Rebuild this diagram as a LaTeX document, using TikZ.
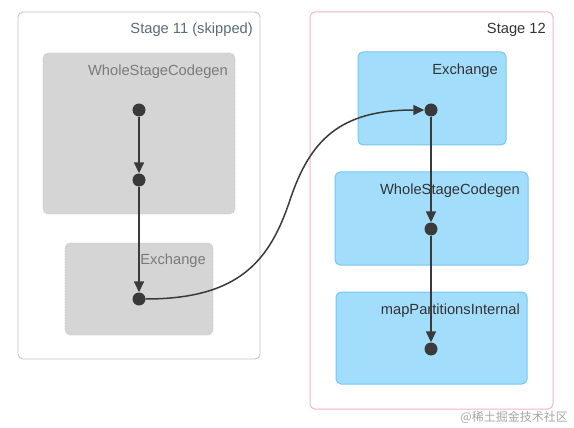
\documentclass[tikz,border=0pt]{standalone}
\usepackage{fontspec}
\setmainfont{Liberation Sans}
\newfontfamily\cjk{Noto Sans CJK SC}
\usetikzlibrary{arrows.meta}
\definecolor{grayfill}{HTML}{D5D5D5}
\definecolor{grayedge}{HTML}{C4C4C4}
\definecolor{stageedge}{HTML}{C2C2C2}
\definecolor{pinkedge}{HTML}{F3B3C2}
\definecolor{bluefill}{HTML}{A2DEFB}
\definecolor{blueedge}{HTML}{72C8F4}
\definecolor{dotc}{HTML}{3A3A3A}
\definecolor{graytext}{HTML}{7A7A7A}
\definecolor{stagetext}{HTML}{5A6B7B}
\definecolor{darktext}{HTML}{333333}
\begin{document}
\begin{tikzpicture}[x=1pt,y=-1pt,
  stagebox/.style={draw=stageedge,line width=0.9pt,rounded corners=5pt,fill=white},
  pinkbox/.style={draw=pinkedge,line width=1pt,rounded corners=5pt,fill=white},
  graybox/.style={draw=grayedge,densely dotted,line width=0.6pt,rounded corners=5pt,fill=grayfill},
  bluebox/.style={draw=blueedge,line width=1pt,rounded corners=5pt,fill=bluefill},
  lbl/.style={anchor=east,inner sep=0pt,font=\fontsize{14.7}{17}\selectfont},
  dot/.style={circle,fill=dotc,draw=none,minimum size=13pt,inner sep=0pt},
  edge/.style={draw=dotc,line width=1.5pt,-{Triangle[length=11pt,width=10pt]}}
]
\useasboundingbox (0,0) rectangle (574,428);
% Stage 11
\draw[stagebox] (18,12) rectangle (260,359);
\node[lbl,text=stagetext] (s11) at (253,30) {Stage 11 (skipped)};
\draw[graybox] (43,53) rectangle (235,214);
\node[lbl,text=graytext] (wl) at (228,72) {WholeStageCodegen};
\draw[graybox] (65,243) rectangle (213,335);
\node[lbl,text=graytext] (el) at (206,261) {Exchange};
% Stage 12
\draw[pinkbox] (310,12) rectangle (553,409);
\node[lbl,text=darktext] (s12) at (546,30) {Stage 12};
\draw[bluebox] (358,52) rectangle (506,145);
\node[lbl,text=darktext] (er) at (498,71) {Exchange};
\draw[bluebox] (335,172) rectangle (528,265);
\node[lbl,text=darktext] (wr) at (520,191) {WholeStageCodegen};
\draw[bluebox] (336,292) rectangle (527,384);
\node[lbl,text=darktext] (mr) at (520,311) {mapPartitionsInternal};
% dots
\node[dot] (a) at (139,110) {};
\node[dot] (b) at (139,180) {};
\node[dot] (c) at (139,299) {};
\node[dot] (d) at (431,110) {};
\node[dot] (e) at (431,229) {};
\node[dot] (f) at (431,349) {};
% edges
\draw[edge] (a) -- (b);
\draw[edge] (b) -- (c);
\draw[edge] (d) -- (e);
\draw[edge] (e) -- (f);
\coordinate (m) at (290,200);
\draw[edge] (c.east) .. controls (240,299) and (270,260) .. (m)
  .. controls (310,140) and (340,110) .. (d.west);
% watermark
\node[anchor=east,inner sep=0pt,text=black!35,font=\cjk\fontsize{12}{14}\selectfont] (wm) at (568,417) {@稀土掘金技术社区};
\end{tikzpicture}
\end{document}
